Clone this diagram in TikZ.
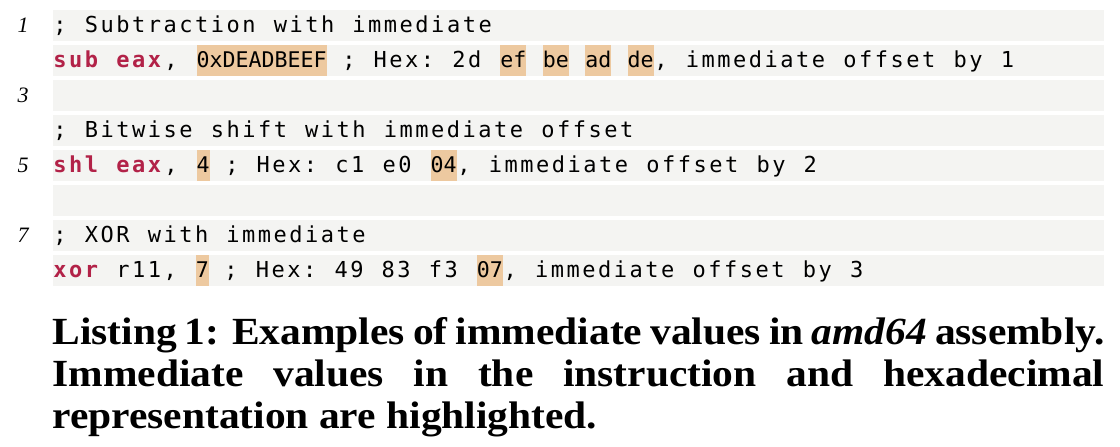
\documentclass[tikz,border=0pt]{standalone}
\usepackage{fontspec}
\setmainfont{Liberation Serif}
\newfontfamily\codefont[LetterSpace=11.4]{DejaVu Sans Mono}
\newfontfamily\immfont{DejaVu Sans Mono}
\newfontfamily\capfont[FakeStretch=1.08]{Liberation Serif}
\usetikzlibrary{positioning}
\definecolor{stripgray}{RGB}{244,244,242}
\definecolor{immpeach}{RGB}{237,201,160}
\definecolor{kwred}{RGB}{178,34,72}
\newcommand\csp{\hspace*{9.1pt}}% space after a glyph
\newcommand\bsp{\hspace*{7.4pt}}% space after a box
\newcommand\trk{\hspace*{1.255pt}}
\tikzset{
    codeseg/.style = {anchor=base west, inner sep=0pt, text=black, font=\codefont\fontsize{11}{12}\selectfont},
    kwseg/.style = {codeseg, text=kwred, font=\codefont\fontsize{11}{12}\selectfont\bfseries},
    immseg/.style = {anchor=base west, inner sep=0pt, fill=immpeach, text height=11pt, text depth=4.5pt, font=\immfont\fontsize{10.8}{12}\selectfont},
    lineno/.style = {anchor=base east, inner sep=0pt, font=\itshape\fontsize{11}{12}\selectfont},
    capnode/.style = {anchor=base west, inner sep=0pt, text width=526pt, align=justify, font=\capfont\bfseries\fontsize{19.2}{21}\selectfont}
}
\begin{document}
\begin{tikzpicture}[x=0.5pt, y=-0.5pt]
  \useasboundingbox (0,0) rectangle (1120,446);
  % line strips
  \foreach \i in {0,...,7}
    \fill[stripgray] (53,10+35*\i) rectangle (1104,41+35*\i);
  % line numbers
  \node[lineno] (n1) at (29,32) {1};
  \node[lineno] (n3) at (29,102) {3};
  \node[lineno] (n5) at (29,172) {5};
  \node[lineno] (n7) at (29,242) {7};
  % line 1-2
  \node[codeseg] (c1) at (53,32) {;\csp Subtraction\csp with\csp immediate};
  \node[kwseg] (sub) at (53,67) {sub\csp eax\trk};
  \node[codeseg] (c2a) at (sub.base east) {,\csp};
  \node[immseg] (dead) at (c2a.base east) {0xDEADBEEF};
  \node[codeseg] (c2b) at (dead.base east) {\bsp;\csp Hex:\csp 2d\csp};
  \node[immseg] (ef) at (c2b.base east) {ef};
  \node[codeseg] (c2c) at (ef.base east) {\bsp};
  \node[immseg] (be) at (c2c.base east) {be};
  \node[codeseg] (c2d) at (be.base east) {\bsp};
  \node[immseg] (ad) at (c2d.base east) {ad};
  \node[codeseg] (c2e) at (ad.base east) {\bsp};
  \node[immseg] (de) at (c2e.base east) {de};
  \node[codeseg] (c2f) at (de.base east) {,\csp immediate\csp offset\csp by\csp 1};
  % line 4-5
  \node[codeseg] (c4) at (53,137) {;\csp Bitwise\csp shift\csp with\csp immediate\csp offset};
  \node[kwseg] (shl) at (53,172) {shl\csp eax\trk};
  \node[codeseg] (c5a) at (shl.base east) {,\csp};
  \node[immseg] (four) at (c5a.base east) {4};
  \node[codeseg] (c5b) at (four.base east) {\bsp;\csp Hex:\csp c1\csp e0\csp};
  \node[immseg] (zfour) at (c5b.base east) {04};
  \node[codeseg] (c5c) at (zfour.base east) {,\csp immediate\csp offset\csp by\csp 2};
  % line 7-8
  \node[codeseg] (c7) at (53,242) {;\csp XOR\csp with\csp immediate};
  \node[kwseg] (xor) at (53,277) {xor\trk};
  \node[codeseg] (c8a) at (xor.base east) {\bsp r11,\csp};
  \node[immseg] (seven) at (c8a.base east) {7};
  \node[codeseg] (c8b) at (seven.base east) {\bsp;\csp Hex:\csp 49\csp 83\csp f3\csp};
  \node[immseg] (zseven) at (c8b.base east) {07};
  \node[codeseg] (c8c) at (zseven.base east) {,\csp immediate\csp offset\csp by\csp 3};
  % caption
  \node[capnode] (cap) at (52,344) {Listing 1: Examples of immediate values in \textit{amd64} assembly.\linebreak
    Immediate values in the instruction and hexadecimal\linebreak
    representation are highlighted.};
\end{tikzpicture}
\end{document}
